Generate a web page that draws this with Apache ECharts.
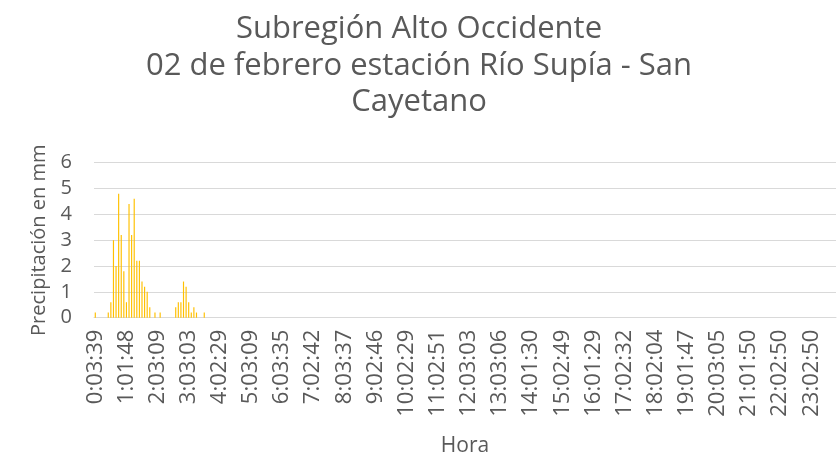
<!DOCTYPE html>
<html>
<head>
<meta charset="utf-8">
<script src="https://cdn.jsdelivr.net/npm/echarts@6/dist/echarts.min.js"></script>
<style>html,body{margin:0;padding:0;background:#fff;}#c{width:838px;height:460px;}</style>
</head>
<body>
<div id="c"></div>
<script>
// Tick labels shown on the x axis (every 12th record)
var tickLabels = ["0:03:39","1:01:48","2:03:09","3:03:03","4:02:29","5:03:09","6:03:35","7:02:42",
  "8:03:37","9:02:46","10:02:29","11:02:51","12:03:03","13:03:06","14:01:30","15:02:49",
  "16:01:29","17:02:32","18:02:04","19:01:47","20:03:05","21:01:50","22:02:50","23:02:50"];

// Precipitation per record (mm), one row per hour (12 records each)
var precipValues = [
  0.2,0,0,0,0,0.2,0.6,3.0,2.0,4.8,3.2,1.8,
  0.6,4.4,3.2,4.6,2.2,2.2,1.4,1.2,1.0,0.4,0,0.2,
  0,0.2,0,0,0,0,0,0.4,0.6,0.6,1.4,1.2,
  0.6,0.2,0.4,0.2,0,0,0.2,0,0,0,0,0,
  0,0,0,0,0,0,0,0,0,0,0,0,
  0,0,0,0,0,0,0,0,0,0,0,0,
  0,0,0,0,0,0,0,0,0,0,0,0,
  0,0,0,0,0,0,0,0,0,0,0,0,
  0,0,0,0,0,0,0,0,0,0,0,0,
  0,0,0,0,0,0,0,0,0,0,0,0,
  0,0,0,0,0,0,0,0,0,0,0,0,
  0,0,0,0,0,0,0,0,0,0,0,0,
  0,0,0,0,0,0,0,0,0,0,0,0,
  0,0,0,0,0,0,0,0,0,0,0,0,
  0,0,0,0,0,0,0,0,0,0,0,0,
  0,0,0,0,0,0,0,0,0,0,0,0,
  0,0,0,0,0,0,0,0,0,0,0,0,
  0,0,0,0,0,0,0,0,0,0,0,0,
  0,0,0,0,0,0,0,0,0,0,0,0,
  0,0,0,0,0,0,0,0,0,0,0,0,
  0,0,0,0,0,0,0,0,0,0,0,0,
  0,0,0,0,0,0,0,0,0,0,0,0,
  0,0,0,0,0,0,0,0,0,0,0,0,
  0,0,0,0,0,0,0,0,0,0
];

// Build category names: labelled time + 5-minute steps between labels
function addMinutes(t, m) {
  var p = t.split(':').map(Number);
  var s = p[0]*3600 + p[1]*60 + p[2] + m*60;
  var h = Math.floor(s/3600), mi = Math.floor((s%3600)/60), se = s%60;
  return h + ':' + (mi<10?'0':'') + mi + ':' + (se<10?'0':'') + se;
}
var categories = [];
for (var i = 0; i < precipValues.length; i++) {
  var k = Math.floor(i/12), j = i % 12;
  categories.push(j === 0 ? tickLabels[k] : addMinutes(tickLabels[k], j*5));
}

var font = '"Open Sans", sans-serif';
var chart = echarts.init(document.getElementById('c'), null, {renderer: 'canvas'});
chart.setOption({
  animation: false,
  backgroundColor: '#ffffff',
  title: {
    text: 'Subregión Alto Occidente\n02 de febrero estación Río Supía - San\nCayetano',
    left: 'center',
    top: 6,
    textStyle: {fontFamily: font, fontSize: 31, fontWeight: 'normal', color: '#595959', lineHeight: 36.5}
  },
  grid: {left: 94, right: 2, top: 162.7, bottom: 142.3, containLabel: false},
  xAxis: {
    type: 'category',
    data: categories,
    name: 'Hora',
    nameLocation: 'middle',
    nameGap: 118,
    nameTextStyle: {fontFamily: font, fontSize: 21, color: '#595959'},
    axisLine: {lineStyle: {color: '#d9d9d9', width: 1}},
    axisTick: {show: false},
    axisLabel: {interval: 11, rotate: 90, margin: 12, fontFamily: font, fontSize: 22, color: '#595959'}
  },
  yAxis: {
    type: 'value',
    min: 0, max: 6, interval: 1,
    name: 'Precipitación en mm',
    nameLocation: 'middle',
    nameGap: 44,
    nameRotate: 90,
    nameTextStyle: {fontFamily: font, fontSize: 20, color: '#595959'},
    axisLine: {show: false},
    axisTick: {show: false},
    axisLabel: {margin: 22, fontFamily: font, fontSize: 20, color: '#595959'},
    splitLine: {lineStyle: {color: '#d9d9d9', width: 1}}
  },
  series: [{
    type: 'bar',
    data: precipValues,
    barWidth: '45%',
    itemStyle: {color: '#FFC000'}
  }]
});
</script>
</body>
</html>
